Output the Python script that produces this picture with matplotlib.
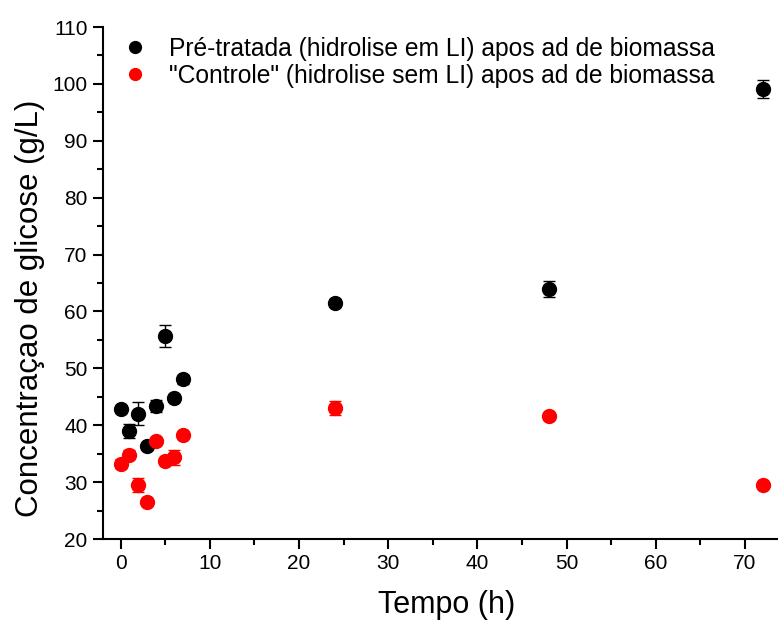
import matplotlib
matplotlib.use("Agg")
import matplotlib.pyplot as plt
from matplotlib.ticker import MultipleLocator

plt.rcParams['font.family'] = ['Liberation Sans', 'DejaVu Sans']

# dados
tempo = [0, 1, 2, 3, 4, 5, 6, 7, 24, 48, 72]
pre_tratada = [42.8, 39.0, 42.0, 36.3, 43.4, 55.7, 44.8, 48.1, 61.5, 64.0, 99.1]
erro_pre = [0.5, 1.2, 2.0, 0.4, 1.0, 2.0, 0.3, 0.8, 0.7, 1.4, 1.6]
controle = [33.2, 34.8, 29.5, 26.5, 37.2, 33.7, 34.4, 38.3, 43.0, 41.6, 29.5]
erro_controle = [0.8, 0.8, 1.2, 0.3, 0.3, 0.3, 1.3, 0.3, 1.2, 0.5, 0.3]

fig = plt.figure(figsize=(7.78, 6.21), dpi=100)
ax = fig.add_axes([0.132, 0.132, 0.868, 0.8245])

eb1 = ax.errorbar(tempo, pre_tratada, yerr=erro_pre, fmt='o', color='black',
                  markersize=10, capsize=4, elinewidth=1, capthick=1)
eb2 = ax.errorbar(tempo, controle, yerr=erro_controle, fmt='o', color='red',
                  markersize=10, capsize=4, elinewidth=1, capthick=1)

ax.set_xlim(-2, 73.7)
ax.set_ylim(20, 110)
ax.xaxis.set_major_locator(MultipleLocator(10))
ax.xaxis.set_minor_locator(MultipleLocator(5))
ax.yaxis.set_major_locator(MultipleLocator(10))
ax.yaxis.set_minor_locator(MultipleLocator(5))

ax.spines['top'].set_visible(False)
ax.spines['right'].set_visible(False)
ax.spines['left'].set_linewidth(1.5)
ax.spines['bottom'].set_linewidth(1.5)
ax.tick_params(which='major', direction='out', length=7, width=1.5, labelsize=15, pad=4)
ax.tick_params(which='minor', direction='out', length=4, width=1.5)

ax.set_xlabel('Tempo (h)', fontsize=22, labelpad=12)
ax.xaxis.label.set_x(0.509)
ax.set_ylabel('Concentraçao de glicose (g/L)', fontsize=22.5)
ax.yaxis.set_label_coords(-0.086, 0.451)

# legenda so com os marcadores, sem barra de erro
ax.legend([eb1[0], eb2[0]],
          ['Pré-tratada (hidrolise em LI) apos ad de biomassa',
           '"Controle" (hidrolise sem LI) apos ad de biomassa'],
          loc='upper left', frameon=False, fontsize=17.7, handletextpad=0.8,
          handlelength=1.2, borderaxespad=0.0, labelspacing=0.12,
          markerscale=0.85, bbox_to_anchor=(0.011, 1.0))

fig.savefig('out.png', dpi=100)
plt.close()
